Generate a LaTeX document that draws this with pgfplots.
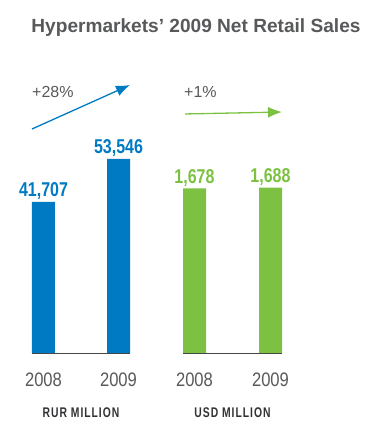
\documentclass[border=0pt]{standalone}
\usepackage{fontspec}
\setmainfont{Liberation Sans}
\newfontfamily\condfont[FakeStretch=0.8]{Liberation Sans}
\newfontfamily\tickfont[FakeStretch=0.85]{Liberation Sans}
\newfontfamily\capfont[FakeStretch=0.74,LetterSpace=7]{Liberation Sans}
\usepackage{pgfplots}
\pgfplotsset{compat=1.18}
\usetikzlibrary{arrows.meta}
\definecolor{rurblue}{RGB}{0,122,194}
\definecolor{usdgreen}{RGB}{125,193,66}
\definecolor{txtgray}{RGB}{88,89,91}
\definecolor{capgray}{RGB}{50,50,53}

\pgfplotsset{mybar/.style={
  scale only axis, height=200bp, anchor=south west,
  ymin=0, axis x line*=bottom, axis y line=none,
  axis line style={draw=black!72, line width=0.8bp},
  xtick={0,1}, xticklabels={2008,2009}, major tick length=0pt,
  xticklabel style={font=\tickfont\fontsize{19.5bp}{20bp}\selectfont, text=txtgray,
    anchor=north, inner sep=0pt, text depth=0pt, yshift=-20bp},
  ybar, bar width=23bp, clip=false,
  nodes near coords, point meta=explicit symbolic,
  every node near coord/.append style={font=\condfont\bfseries\fontsize{20bp}{20bp}\selectfont,
    anchor=south, inner sep=0pt, text depth=0pt, yshift=5bp},
  /pgf/number format/assume math mode=true,
}}

\begin{document}
\begin{tikzpicture}
\useasboundingbox (0,0) rectangle (382bp,438bp);
\node[anchor=base, inner sep=0pt, text=txtgray, font=\bfseries\fontsize{19.1bp}{20bp}\selectfont]
  at (196bp,405bp) {Hypermarkets’ 2009 Net Retail Sales};

\begin{axis}[mybar, at={(32bp,85bp)}, width=98bp,
  xmin=-0.1533, xmax=1.1533, ymax=55200,
  every node near coord/.append style={text=rurblue}]
\addplot[fill=rurblue, draw=none] coordinates {(0,41707)[41,707] (1,53546)[53,546]};
\draw[rurblue, line width=1.3bp, -{Latex[length=14bp,width=11bp]}]
  (axis cs:-0.1533,61824) -- (axis cs:1.1533,73968);
\node[anchor=base west, inner sep=0pt, text=txtgray, font=\fontsize{16bp}{16bp}\selectfont]
  at (axis cs:-0.1533,70380) {+28\%};
\node[anchor=north, inner sep=0pt, text depth=0pt, text=capgray,
  font=\capfont\bfseries\fontsize{14bp}{14bp}\selectfont, yshift=-55bp]
  at (axis cs:0.5,0) {RUR MILLION};
\end{axis}

\begin{axis}[mybar, at={(183bp,85bp)}, width=99bp,
  xmin=-0.1513, xmax=1.1513, ymax=2040,
  every node near coord/.append style={text=usdgreen}]
\addplot[fill=usdgreen, draw=none] coordinates {(0,1678)[1,678] (1,1688)[1,688]};
\draw[usdgreen, line width=1.3bp, -{Latex[length=14bp,width=11bp]}]
  (axis cs:-0.125,2438) -- (axis cs:1.1513,2458);
\node[anchor=base west, inner sep=0pt, text=txtgray, font=\fontsize{16bp}{16bp}\selectfont]
  at (axis cs:-0.138,2601) {+1\%};
\node[anchor=north, inner sep=0pt, text depth=0pt, text=capgray,
  font=\capfont\bfseries\fontsize{14bp}{14bp}\selectfont, yshift=-55bp]
  at (axis cs:0.5,0) {USD MILLION};
\end{axis}
\end{tikzpicture}
\end{document}
